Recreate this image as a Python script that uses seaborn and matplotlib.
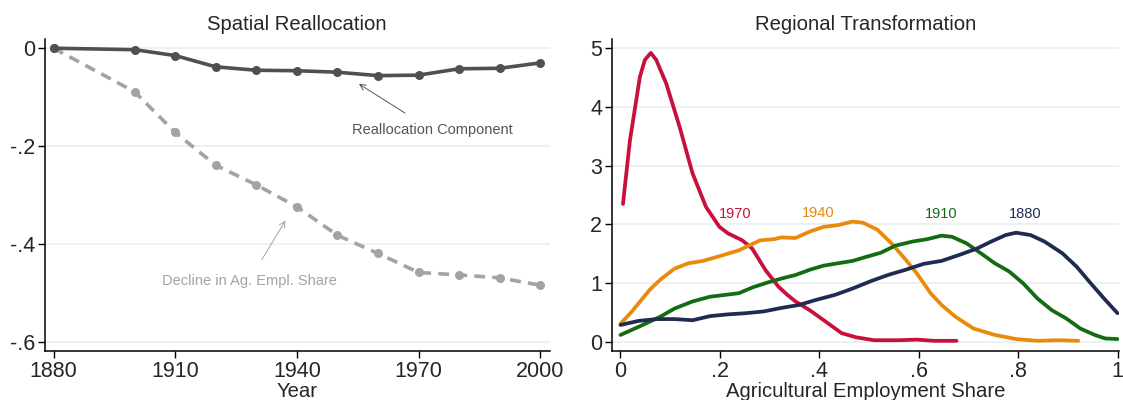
import matplotlib
matplotlib.use("Agg")
import matplotlib.pyplot as plt
import seaborn as sns
import pandas as pd

# ---------------- data ----------------
years = [1880, 1900, 1910, 1920, 1930, 1940, 1950, 1960, 1970, 1980, 1990, 2000]
realloc = [0.0, -0.003, -0.015, -0.038, -0.045, -0.046, -0.049, -0.056, -0.055, -0.042, -0.041, -0.030]
decline = [0.0, -0.089, -0.172, -0.239, -0.279, -0.324, -0.382, -0.419, -0.458, -0.463, -0.469, -0.484]

x1970 = [0.005, 0.019, 0.039, 0.049, 0.061, 0.072, 0.092, 0.119, 0.145, 0.172, 0.199, 0.216, 0.245,
         0.265, 0.292, 0.318, 0.336, 0.352, 0.381, 0.409, 0.445, 0.474, 0.51, 0.56, 0.596, 0.631, 0.676]
d1970 = [2.35, 3.43, 4.51, 4.80, 4.92, 4.80, 4.40, 3.66, 2.87, 2.30, 1.96, 1.85, 1.73,
         1.59, 1.22, 0.94, 0.80, 0.69, 0.54, 0.37, 0.15, 0.08, 0.03, 0.03, 0.04, 0.02, 0.02]

x1940 = [0.0, 0.023, 0.059, 0.08, 0.109, 0.137, 0.166, 0.195, 0.238, 0.281, 0.309, 0.324, 0.352,
         0.381, 0.409, 0.438, 0.467, 0.488, 0.517, 0.545, 0.574, 0.596, 0.624, 0.646, 0.674,
         0.71, 0.753, 0.796, 0.839, 0.882, 0.921]
d1940 = [0.31, 0.52, 0.89, 1.06, 1.25, 1.34, 1.38, 1.45, 1.56, 1.73, 1.75, 1.78, 1.77,
         1.88, 1.96, 1.99, 2.05, 2.03, 1.91, 1.68, 1.40, 1.17, 0.83, 0.63, 0.43,
         0.23, 0.12, 0.05, 0.02, 0.03, 0.02]

x1910 = [0.0, 0.037, 0.08, 0.109, 0.145, 0.18, 0.209, 0.238, 0.266, 0.295, 0.324, 0.352, 0.381,
         0.409, 0.438, 0.467, 0.495, 0.524, 0.553, 0.588, 0.617, 0.646, 0.667, 0.696, 0.725,
         0.753, 0.782, 0.81, 0.839, 0.868, 0.897, 0.925, 0.954, 0.975, 1.0]
d1910 = [0.12, 0.26, 0.43, 0.57, 0.69, 0.77, 0.80, 0.83, 0.93, 1.01, 1.08, 1.14, 1.23,
         1.30, 1.34, 1.38, 1.45, 1.52, 1.64, 1.71, 1.75, 1.81, 1.79, 1.68, 1.51,
         1.34, 1.20, 1.00, 0.74, 0.54, 0.40, 0.23, 0.12, 0.06, 0.05]

x1880 = [0.0, 0.037, 0.073, 0.109, 0.145, 0.18, 0.216, 0.252, 0.288, 0.324, 0.359, 0.395, 0.431,
         0.467, 0.502, 0.538, 0.574, 0.61, 0.646, 0.681, 0.717, 0.746, 0.775, 0.796, 0.825,
         0.853, 0.889, 0.918, 0.946, 0.975, 1.0]
d1880 = [0.29, 0.36, 0.39, 0.39, 0.37, 0.44, 0.47, 0.49, 0.52, 0.58, 0.63, 0.72, 0.80,
         0.91, 1.03, 1.14, 1.23, 1.33, 1.38, 1.48, 1.59, 1.71, 1.82, 1.86, 1.82,
         1.71, 1.51, 1.28, 1.00, 0.72, 0.49]

left_xticks = [1880, 1910, 1940, 1970, 2000]
left_yticks = [0, -0.2, -0.4, -0.6]
left_yticklabels = ["0", "-.2", "-.4", "-.6"]
right_xticks = [0, 0.2, 0.4, 0.6, 0.8, 1.0]
right_xticklabels = ["0", ".2", ".4", ".6", ".8", "1"]
right_yticks = [0, 1, 2, 3, 4, 5]

# ---------------- style ----------------
sns.set_style("white")
plt.rcParams['font.family'] = ['Liberation Sans', 'DejaVu Sans']

GRID = "#e9f1f3"
DARK = "#505050"
LIGHT = "#a3a3a3"
C1970 = "#c8103c"
C1940 = "#ea8a0a"
C1910 = "#146c12"
C1880 = "#1f2b52"

fig = plt.figure(figsize=(11.23, 4.0), dpi=100)
ax1 = fig.add_axes([0.0397, 0.123, 0.450, 0.7785])
ax2 = fig.add_axes([0.545, 0.123, 0.451, 0.7785])

def style_axes(ax):
    for s in ["top", "right"]:
        ax.spines[s].set_visible(False)
    for s in ["left", "bottom"]:
        ax.spines[s].set_color("black")
        ax.spines[s].set_linewidth(1.1)
    ax.tick_params(axis="both", direction="out", length=5, width=1, color="black",
                   labelsize=15.5, pad=2, left=True, bottom=True)
    ax.grid(False)

# ---------------- left panel ----------------
df_left = pd.DataFrame({"Year": years, "realloc": realloc, "decline": decline})
for y in left_yticks:
    ax1.axhline(y, color=GRID, lw=1.3, zorder=0)
sns.lineplot(data=df_left, x="Year", y="decline", ax=ax1, color=LIGHT, lw=2.6,
             marker="o", markersize=6.5, markeredgewidth=0, linestyle=(0, (3, 2)), zorder=3)
sns.lineplot(data=df_left, x="Year", y="realloc", ax=ax1, color=DARK, lw=2.6,
             marker="o", markersize=6.5, markeredgewidth=0, zorder=4)
ax1.set_xlim(1877.8, 2002.4)
ax1.set_ylim(-0.618, 0.018)
ax1.set_xticks(left_xticks)
ax1.set_yticks(left_yticks)
ax1.set_yticklabels(left_yticklabels)
ax1.set_xlabel("Year", fontsize=14.6, labelpad=0)
ax1.set_ylabel("")
ax1.set_title("Spatial Reallocation", fontsize=14.6, pad=7)
style_axes(ax1)

ax1.annotate("Reallocation Component", xy=(1955.3, -0.073), xytext=(1973.3, -0.167),
             ha="center", va="center", fontsize=10.5, color="#555555",
             arrowprops=dict(arrowstyle="->", color="#555555", lw=0.7, shrinkA=9, shrinkB=0))
ax1.annotate("Decline in Ag. Empl. Share", xy=(1937.2, -0.352), xytext=(1928.2, -0.475),
             ha="center", va="center", fontsize=10.5, color=LIGHT,
             arrowprops=dict(arrowstyle="->", color=LIGHT, lw=0.7, shrinkA=9, shrinkB=0))

# ---------------- right panel ----------------
for y in right_yticks:
    ax2.axhline(y, color=GRID, lw=1.3, zorder=0)
series = [("1970", x1970, d1970, C1970), ("1940", x1940, d1940, C1940),
          ("1910", x1910, d1910, C1910), ("1880", x1880, d1880, C1880)]
for name, xs, ds, col in series:
    dfr = pd.DataFrame({"share": xs, "density": ds})
    sns.lineplot(data=dfr, x="share", y="density", ax=ax2, color=col, lw=2.7, zorder=3)

label_pos = {"1970": (0.23, 2.18), "1940": (0.397, 2.19), "1910": (0.646, 2.18), "1880": (0.814, 2.18)}
for name, xs, ds, col in series:
    lx, ly = label_pos[name]
    ax2.text(lx, ly, name, color=col, fontsize=10.5, ha="center", va="center")

ax2.set_xlim(-0.017, 1.002)
ax2.set_ylim(-0.15, 5.15)
ax2.set_xticks(right_xticks)
ax2.set_xticklabels(right_xticklabels)
ax2.set_yticks(right_yticks)
ax2.set_xlabel("Agricultural Employment Share", fontsize=14.6, labelpad=0)
ax2.set_ylabel("")
ax2.set_title("Regional Transformation", fontsize=14.6, pad=7)
style_axes(ax2)

fig.savefig("out.png", dpi=100)
